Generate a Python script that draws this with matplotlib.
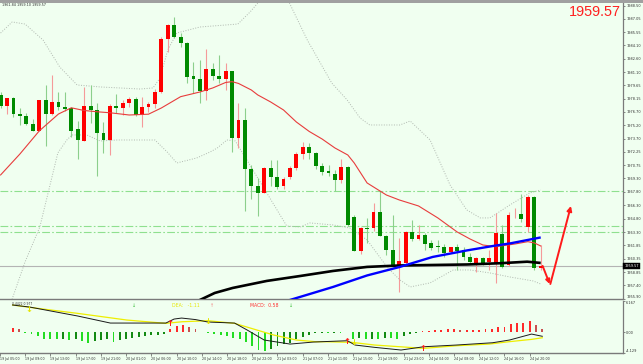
import matplotlib
matplotlib.use("Agg")
import matplotlib.pyplot as plt
from matplotlib.patches import Rectangle
import numpy as np

# ---------------- data ----------------
opens = [1978.57, 1977.34, 1978.20, 1976.45, 1976.23, 1975.34, 1974.60, 1978.01, 1976.45, 1977.76,
         1977.27, 1977.09, 1974.75, 1973.48, 1977.34, 1976.90, 1974.37, 1973.56, 1977.34, 1977.09,
         1977.64, 1978.16, 1976.34, 1977.20, 1977.57, 1978.87, 1984.76, 1986.35, 1984.99, 1984.38,
         1980.68, 1980.38, 1979.05, 1981.43, 1980.71, 1980.31, 1981.24, 1973.75, 1975.79, 1970.30,
         1968.45, 1967.70, 1970.41, 1969.48, 1968.45, 1969.41, 1970.41, 1972.00, 1972.75, 1972.15,
         1970.70, 1970.11, 1969.78, 1969.11, 1970.53, 1965.03, 1961.25, 1963.81, 1963.74, 1965.52,
         1962.88, 1961.33, 1959.58, 1959.85, 1963.36, 1962.58, 1963.00, 1962.07, 1961.80, 1961.69,
         1961.07, 1961.63, 1961.33, 1960.51, 1959.91, 1960.40, 1959.99, 1959.85, 1963.11, 1959.66,
         1965.28, 1965.30, 1963.85, 1967.26, 1959.27]
highs = [1978.90, 1978.23, 1978.34, 1977.12, 1976.57, 1975.90, 1978.05, 1979.68, 1980.79, 1978.87,
         1978.93, 1977.27, 1975.68, 1979.46, 1979.68, 1977.68, 1975.60, 1977.57, 1978.65, 1978.01,
         1978.38, 1978.29, 1978.38, 1977.82, 1979.20, 1984.99, 1986.41, 1987.28, 1985.43, 1984.50,
         1982.27, 1982.46, 1983.65, 1982.16, 1983.02, 1982.16, 1981.29, 1977.64, 1977.09, 1970.78,
         1969.30, 1970.50, 1971.34, 1971.34, 1969.48, 1970.67, 1972.23, 1973.37, 1973.26, 1972.23,
         1970.97, 1970.78, 1970.23, 1971.42, 1970.67, 1965.22, 1963.92, 1964.85, 1966.52, 1967.92,
         1962.95, 1965.22, 1962.63, 1963.44, 1964.66, 1964.11, 1963.22, 1962.44, 1962.44, 1961.96,
         1961.69, 1961.96, 1961.69, 1960.96, 1960.58, 1960.58, 1961.33, 1965.44, 1964.11, 1965.55,
         1966.00, 1967.60, 1967.45, 1967.33, 1961.84]
lows = [1977.12, 1976.45, 1976.15, 1975.23, 1975.23, 1974.56, 1974.56, 1972.89, 1976.34, 1976.90,
        1976.79, 1973.93, 1971.42, 1973.45, 1975.42, 1969.56, 1972.15, 1971.89, 1976.53, 1976.34,
        1977.27, 1976.23, 1975.04, 1976.71, 1977.09, 1978.79, 1983.38, 1984.91, 1983.94, 1979.94,
        1978.76, 1977.64, 1978.01, 1980.24, 1979.87, 1979.12, 1972.26, 1972.64, 1965.66, 1966.97,
        1965.14, 1967.67, 1968.45, 1968.08, 1968.08, 1969.22, 1970.23, 1971.42, 1971.42, 1970.30,
        1969.67, 1969.56, 1967.92, 1968.81, 1964.00, 1961.22, 1960.88, 1962.07, 1963.47, 1962.83,
        1960.77, 1959.47, 1956.69, 1959.77, 1962.36, 1962.44, 1961.33, 1961.33, 1961.14, 1960.58,
        1960.96, 1959.10, 1960.21, 1959.85, 1958.91, 1959.66, 1959.10, 1957.69, 1959.32, 1959.55,
        1964.90, 1964.44, 1963.33, 1959.10, 1959.10]
closes = [1977.34, 1978.20, 1976.45, 1976.26, 1975.31, 1974.60, 1978.01, 1976.42, 1977.76, 1977.27,
          1976.98, 1974.60, 1973.56, 1977.34, 1976.90, 1974.31, 1973.56, 1977.34, 1977.09, 1977.64,
          1978.16, 1976.34, 1977.20, 1977.57, 1978.87, 1984.76, 1986.35, 1984.99, 1984.38, 1980.54,
          1980.31, 1979.05, 1981.43, 1980.68, 1980.35, 1981.27, 1973.75, 1975.79, 1970.30, 1968.45,
          1967.70, 1970.41, 1969.48, 1968.37, 1969.19, 1970.41, 1972.00, 1972.75, 1972.15, 1970.70,
          1970.04, 1969.86, 1969.11, 1970.53, 1964.11, 1961.25, 1963.74, 1963.70, 1965.59, 1962.88,
          1961.33, 1959.58, 1960.10, 1963.36, 1962.52, 1963.00, 1961.96, 1961.58, 1961.69, 1961.03,
          1961.63, 1961.25, 1960.51, 1960.03, 1960.47, 1959.85, 1960.44, 1963.18, 1959.47, 1965.22,
          1965.35, 1964.74, 1967.26, 1959.29, 1959.57]

# moving average (red) knots: candle index, price
ma_idx = [0, 3, 6, 9, 11, 13, 15, 17, 20, 23, 25, 28, 31, 33, 35, 36, 37, 39, 40, 42, 44, 46, 48,
          50, 52, 54, 55, 57, 60, 62, 65, 68, 71, 73, 75, 77, 80, 82, 83, 84]
ma_val = [1969.67, 1972.00, 1974.56, 1976.45, 1977.14, 1976.84, 1976.70, 1976.59, 1976.34, 1976.43,
          1977.12, 1978.38, 1978.90, 1979.35, 1979.96, 1980.05, 1979.85, 1979.12, 1978.57, 1977.79,
          1976.90, 1975.56, 1974.51, 1973.67, 1972.67, 1971.89, 1971.00, 1968.78, 1967.44, 1966.89,
          1966.22, 1964.89, 1963.33, 1962.55, 1961.88, 1961.69, 1961.99, 1962.25, 1962.11, 1961.77]

# Bollinger bands (gray dotted)
bbu_idx = [0, 1.8, 3.8, 6.6, 9.2, 11.9, 15.5, 21.7, 23.7, 24.8, 26.0, 27.4, 31.0, 36.9, 38.8, 40.0,
           41.9, 44.7, 47.7, 51.5, 53.9, 55.9, 57.4, 62.1, 63.7, 66.8, 69.9, 72.5, 74.6, 76.1, 79.2,
           82.3, 84.0]
bbu_val = [1985.46, 1986.69, 1986.46, 1984.68, 1981.68, 1979.68, 1979.46, 1979.23, 1979.35, 1980.46,
           1983.57, 1985.46, 1986.13, 1986.46, 1987.80, 1988.80, 1990.47, 1989.13, 1984.68, 1979.90,
           1978.01, 1976.01, 1975.23, 1975.23, 1975.67, 1973.56, 1968.56, 1965.78, 1964.89, 1964.89,
           1966.33, 1967.67, 1968.00]
bbl_idx = [0, 1.8, 3.8, 6.1, 8.9, 10.3, 11.1, 13.4, 15.5, 18.1, 24.0, 25.9, 27.4, 30.5, 32.6, 33.7,
           35.2, 36.5, 38.3, 41.4, 44.5, 46.6, 48.1, 51.7, 54.3, 57.0, 60.1, 62.1, 63.7, 66.8, 70.4,
           73.0, 76.1, 79.2, 82.8, 84.0]
bbl_val = [1953.00, 1955.87, 1959.99, 1963.88, 1972.12, 1973.56, 1974.12, 1974.12, 1973.45, 1973.56,
           1973.56, 1972.23, 1971.00, 1971.56, 1972.23, 1972.67, 1973.56, 1973.45, 1971.34, 1967.67,
           1963.99, 1963.88, 1964.33, 1964.11, 1963.77, 1962.44, 1959.43, 1957.99, 1957.21, 1957.66,
           1959.10, 1959.10, 1958.77, 1958.32, 1957.88, 1957.54]

# long moving averages (thick blue / black)
blue_idx = [43.5, 45.5, 48.1, 51.7, 57.0, 62.1, 67.2, 72.5, 76.6, 79.2, 84.0]
blue_val = [1955.43, 1955.87, 1956.43, 1957.21, 1958.49, 1959.44, 1960.55, 1961.27, 1961.77, 1962.05,
            1962.72]
black_idx = [29.5, 31.0, 33.3, 36.1, 41.4, 46.6, 51.7, 57.0, 62.1, 72.5, 77.7, 81.9, 84.0]
black_val = [1955.21, 1955.76, 1956.54, 1957.10, 1957.88, 1958.43, 1958.99, 1959.44, 1959.60, 1959.71,
             1959.85, 1960.02, 1959.88]

# horizontal levels
levels = [1967.85, 1964.00, 1963.30]
last_price = 1959.57

# drawn arrow annotation (index, price)
arrow_down = [(84.3, 1959.55), (85.4, 1957.54)]
arrow_up = [(85.5, 1957.54), (88.7, 1966.22)]

# MACD panel
dif_idx = [0, 2.7, 10.3, 15.5, 24.3, 25.6, 26.8, 29, 31, 35.2, 37.2, 39.9, 44, 47.7, 49.7, 53.1, 54.3,
           57.4, 61.6, 65.2, 70.4, 76.1, 78.8, 82.3, 84]
dif_val = [5.37, 4.97, 3.2, 1.80, 1.80, 2.59, 2.79, 2.49, 2.00, 1.80, 0.42, -1.56, -2.36, -1.96, -1.86,
           -1.70, -2.55, -3.01, -3.54, -2.89, -2.55, -2.10, -1.56, -0.38, -0.82]
dea_idx = [0, 2.7, 10.3, 18.1, 24.3, 26.9, 31, 35.2, 41.4, 45, 48.1, 49.7, 53.8, 57.4, 65.2, 70.4, 75.6,
           78.7, 82.3, 84]
dea_val = [5.37, 4.91, 3.72, 2.40, 1.74, 2.06, 2.26, 1.74, -0.57, -1.56, -1.90, -1.90, -2.02, -2.55,
           -3.21, -2.69, -2.36, -1.90, -1.43, -1.11]
hist = [0.86, 0.66, -0.10, -0.46, -0.79, -1.32, -1.45, -1.45, -1.32, -1.58,
        -1.45, -1.78, -2.11, -1.78, -1.58, -1.45, -1.91, -1.58, -1.32, -1.12,
        -0.92, -0.79, -0.66, -0.59, -0.46, 0.66, 1.19, 1.32, 1.06, 0.53,
        0.10, -0.26, -0.46, -0.59, -0.79, -1.12, -1.45, -1.98, -2.77, -3.56,
        -3.76, -3.43, -2.77, -2.44, -2.11, -1.45, -0.92, -0.59, -0.26, -0.13,
        -0.13, -0.10, -0.10, 0.05, -1.45, -1.12, -1.45, -1.32, -1.32, -1.12,
        -1.12, -1.32, -0.79, -0.46, -0.10, 0.13, 0.26, 0.40, 0.40, 0.53,
        0.53, 0.40, 0.40, 0.40, 0.40, 0.53, 0.66, 1.06, 1.06, 1.52,
        1.72, 1.72, 2.18, 1.32, 0.58]
cross_up = [(24.9, 1.8), (53.0, -1.9), (65.1, -3.2)]
cross_down = [(2.6, 4.5), (30.9, 2.06), (54.1, -2.02)]
sig_down = [19.2, 44.2]
sig_up = [31.6]

# axis labels
price_ticks = [1988.50, 1987.05, 1985.55, 1984.10, 1982.60, 1981.10, 1979.65, 1978.15, 1976.70,
               1975.20, 1973.70, 1972.25, 1970.75, 1969.30, 1967.80, 1966.30, 1964.80, 1963.30,
               1961.85, 1960.35, 1958.85, 1957.40, 1955.90]
macd_ticks = [6.167, 0.00, -4.129]
time_idx = [-2, 2, 6, 10, 14, 18, 22, 26, 30, 34, 38, 42, 46, 50, 54, 58, 62, 66, 70, 74, 78, 82]
time_labels = ["19 Jul 05:00", "19 Jul 09:00", "19 Jul 13:00", "19 Jul 17:00", "19 Jul 21:00",
               "20 Jul 01:00", "20 Jul 06:00", "20 Jul 10:00", "20 Jul 14:00", "20 Jul 18:00",
               "20 Jul 22:00", "21 Jul 03:00", "21 Jul 07:00", "21 Jul 11:00", "21 Jul 15:00",
               "21 Jul 19:00", "21 Jul 23:00", "24 Jul 04:00", "24 Jul 08:00", "24 Jul 12:00",
               "24 Jul 16:00", "24 Jul 20:00"]

# ---------------- figure ----------------
W, H, DPI = 643, 364, 100
BG = "#F0FFF0"
fig = plt.figure(figsize=(W / DPI, H / DPI), dpi=DPI, facecolor=BG)

ax = fig.add_axes([0, 1 - 299 / H, 623 / W, 296 / H], facecolor=BG)
axm = fig.add_axes([0, 1 - 353 / H, 623 / W, 52 / H], facecolor=BG)
XMIN, XMAX = -0.093, 96.8
for a in (ax, axm):
    a.set_xlim(XMIN, XMAX)
    for s in ("left", "top"):
        a.spines[s].set_visible(False)
    a.spines["right"].set_color("#7a7a7a")
    a.spines["right"].set_linewidth(0.9)
    a.spines["bottom"].set_color("#7a7a7a")
    a.spines["bottom"].set_linewidth(1.0)
ax.set_ylim(1955.87, 1988.80)
axm.set_ylim(-4.129, 6.167)

# levels
for lv in levels:
    ax.axhline(lv, color="#8fe08f", lw=0.8, ls=(0, (7, 2, 1.5, 2)), zorder=1)
ax.axhline(last_price, color="#b4b4b4", lw=0.8, zorder=1)

# bollinger
dot = (0, (1, 1.6))
ax.plot(bbu_idx, bbu_val, color="#b0b8b0", lw=0.7, ls=dot, zorder=2)
ax.plot(bbl_idx, bbl_val, color="#b0b8b0", lw=0.7, ls=dot, zorder=2)

# candles
bw = 0.6
for i, (o, h, l, c) in enumerate(zip(opens, highs, lows, closes)):
    up = c >= o
    bc = "#ff0000" if up else "#008a00"
    wc = "#f59a9a" if up else "#8ccf8c"
    ax.vlines(i, l, h, color=wc, lw=0.8, zorder=3)
    bot = min(o, c)
    hgt = max(abs(c - o), 0.07)
    ax.add_patch(Rectangle((i - bw / 2, bot), bw, hgt, facecolor=bc, edgecolor="none", zorder=4))

# moving averages
ax.plot(ma_idx, ma_val, color="#e83c3c", lw=0.8, zorder=5)
ax.plot(black_idx, black_val, color="#000000", lw=1.9, zorder=6, solid_capstyle="butt")
ax.plot(blue_idx, blue_val, color="#0000ff", lw=1.7, zorder=7, solid_capstyle="butt")

# red drawn arrows
ax.annotate("", xy=arrow_down[1], xytext=arrow_down[0],
            arrowprops=dict(arrowstyle="-|>", color="#ff1a1a", lw=1.4, mutation_scale=6,
                            shrinkA=0, shrinkB=0), annotation_clip=False, zorder=8)
ax.annotate("", xy=arrow_up[1], xytext=arrow_up[0],
            arrowprops=dict(arrowstyle="-|>", color="#ff1a1a", lw=1.4, mutation_scale=7,
                            shrinkA=0, shrinkB=0), annotation_clip=False, zorder=8)

# price axis
ax.set_xticks([])
ax.yaxis.tick_right()
ax.set_yticks(price_ticks)
ax.set_yticklabels([f"{v:.2f}" for v in price_ticks])
ax.tick_params(axis="y", labelsize=2.5, length=1.5, width=0.4, pad=0.8, colors="#303030")
ax.get_yticklabels()[-1].set_verticalalignment("bottom")
ax.text(1.002, last_price, f"{last_price:.2f}", transform=ax.get_yaxis_transform(),
        fontsize=2.5, color="white", va="center", ha="left",
        bbox=dict(boxstyle="square,pad=0.25", fc="black", ec="black", lw=0.3), zorder=10,
        clip_on=False)

# MACD
hcols = []
for i, v in enumerate(hist):
    prev = hist[i - 1] if i > 0 else v
    if v >= 0:
        hcols.append("#ff2a2a" if v >= prev else "#c85050")
    else:
        hcols.append("#22dd22" if v <= prev else "#138a13")
axm.bar(range(len(hist)), hist, width=0.3, color=hcols, zorder=2)
axm.plot(dea_idx, dea_val, color="#eeee00", lw=0.9, zorder=3)
axm.plot(dif_idx, dif_val, color="#1a1a1a", lw=0.7, zorder=4)
for xi, yv in cross_up:
    axm.text(xi, yv, "↑", color="#ff1a1a", fontsize=6, fontweight="bold", ha="center", va="center",
             zorder=5)
for xi, yv in cross_down:
    axm.text(xi, yv, "↓", color="#e6e600", fontsize=6, fontweight="bold", ha="center", va="center",
             zorder=5)
for xi in sig_down:
    axm.text(xi, 5.3, "↓", color="#33bb33", fontsize=3.5, ha="center", va="center")
for xi in sig_up:
    axm.text(xi, 5.3, "↑", color="#f08080", fontsize=3.5, ha="center", va="center")
axm.text(25.2, 5.3, "DEA:   -1.11", color="#e6e600", fontsize=3.3, va="center")
axm.text(37.7, 5.3, "MACD:  0.58", color="#ff3030", fontsize=3.3, va="center")
axm.text(-0.05, 5.6, "0.4422 0.977", color="#303030", fontsize=2.2, va="center")

axm.yaxis.tick_right()
axm.set_yticks(macd_ticks)
axm.set_yticklabels(["6.167", "0.00", "-4.129"])
axm.tick_params(axis="y", labelsize=2.5, length=1.5, width=0.4, pad=0.8, colors="#303030")
ylabs = axm.get_yticklabels()
ylabs[0].set_verticalalignment("top")
ylabs[2].set_verticalalignment("bottom")
axm.set_xticks(time_idx)
axm.set_xticklabels(time_labels)
axm.tick_params(axis="x", labelsize=2.3, length=2, width=0.4, pad=0.8, colors="#303030")
for t in axm.get_xticklabels():
    t.set_horizontalalignment("left")

# decorations
fig.add_artist(Rectangle((0, 1 - 3 / H), 1, 3 / H, transform=fig.transFigure,
                         facecolor="#a0a0a0", edgecolor="none"))
fig.text(621 / W, 1 - 12.5 / H, f"{last_price:.2f}", ha="right", va="center", color="#ff2020",
         fontsize=10.4, family="Liberation Sans")
fig.text(2 / W, 1 - 5 / H, "1961.84 1959.10 1959.57", ha="left", va="center", color="#303030",
         fontsize=2.4)

fig.savefig("out.png", dpi=DPI, facecolor=BG)
